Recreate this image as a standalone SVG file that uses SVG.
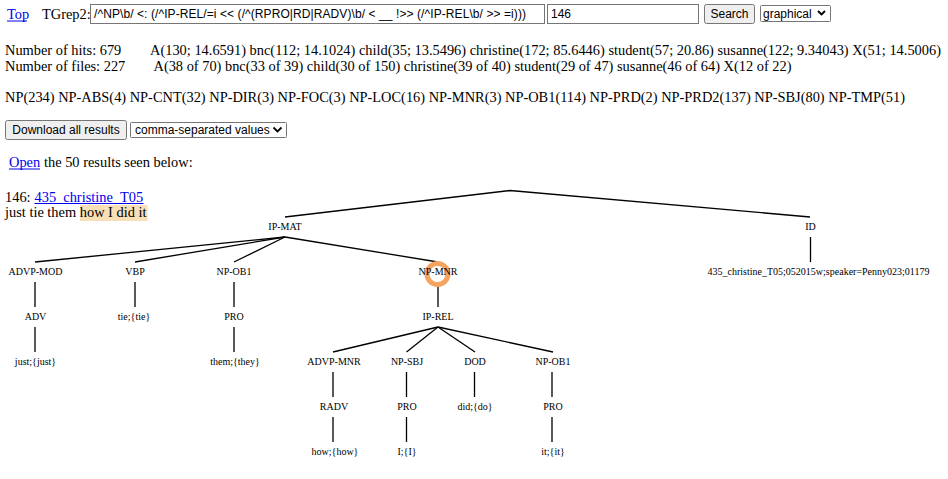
<svg xmlns="http://www.w3.org/2000/svg" width="948" height="479" viewBox="0 0 948 479">
<style>
.t{font-family:"Liberation Serif","Times New Roman",serif;font-size:14.4px;fill:#000}
.lnk{fill:#0000ee}
.ul{stroke:#0000ee;stroke-width:1}
.ui{font-family:"Liberation Sans",Arial,sans-serif;font-size:12px;fill:#000}
.box{fill:#fff;stroke:#767676;stroke-width:1}
.btn{fill:#efefef;stroke:#767676;stroke-width:1}
.chev{fill:none;stroke:#000;stroke-width:1.8}
.n{font-family:"Liberation Serif","Times New Roman",serif;font-size:10px;fill:#000;text-anchor:middle}
.e{stroke:#000;stroke-width:1.3;fill:none}
</style>
<rect width="948" height="479" fill="#fff"/>
<g id="header">
<text class="t lnk" x="7" y="19">Top</text>
<line class="ul" x1="7" y1="21" x2="27" y2="21"/>
<text class="t" x="42" y="19">TGrep2:</text>
<rect class="box" x="90.5" y="4.5" width="454" height="19"/>
<text class="ui" x="94" y="18" textLength="432">/^NP\b/ &lt;: (/^IP-REL/=i &lt;&lt; (/^(RPRO|RD|RADV)\b/ &lt; __ !&gt;&gt; (/^IP-REL\b/ &gt;&gt; =i)))</text>
<rect class="box" x="547.5" y="4.5" width="151" height="19"/>
<text class="ui" x="551" y="18">146</text>
<rect class="btn" x="704.5" y="4.5" width="50" height="19" rx="2"/>
<text class="ui" x="729.5" y="18" text-anchor="middle">Search</text>
<rect class="box" x="760.5" y="5.5" width="70" height="16" rx="1"/>
<text class="ui" x="763" y="18">graphical</text>
<polyline class="chev" points="818,11 821.5,14.5 825,11"/>
</g>
<g id="stats">
<text class="t" x="5" y="54.5">Number of hits: 679</text>
<text class="t" x="150" y="54.5" textLength="791">A(130; 14.6591) bnc(112; 14.1024) child(35; 13.5496) christine(172; 85.6446) student(57; 20.86) susanne(122; 9.34043) X(51; 14.5006)</text>
<text class="t" x="5" y="71">Number of files: 227</text>
<text class="t" x="153.5" y="71" textLength="638">A(38 of 70) bnc(33 of 39) child(30 of 150) christine(39 of 40) student(29 of 47) susanne(46 of 64) X(12 of 22)</text>
<text class="t" x="5" y="102" textLength="900">NP(234) NP-ABS(4) NP-CNT(32) NP-DIR(3) NP-FOC(3) NP-LOC(16) NP-MNR(3) NP-OB1(114) NP-PRD(2) NP-PRD2(137) NP-SBJ(80) NP-TMP(51)</text>
</g>
<g id="download">
<rect class="btn" x="5.5" y="120.5" width="121" height="19" rx="2"/>
<text class="ui" x="66" y="134" text-anchor="middle">Download all results</text>
<rect class="box" x="130.5" y="122.5" width="156" height="15" rx="1"/>
<text class="ui" x="135" y="134">comma-separated values</text>
<polyline class="chev" points="273.5,127.5 277.5,131.5 281.5,127.5"/>
</g>
<g id="open">
<text class="t lnk" x="9" y="167">Open</text>
<line class="ul" x1="9" y1="169" x2="40" y2="169"/>
<text class="t" x="44" y="167">the 50 results seen below:</text>
</g>
<g id="result">
<rect x="80" y="205" width="67.5" height="16" fill="#f9dfb5"/>
<text class="t" x="5" y="201.5">146:</text>
<text class="t lnk" x="34.5" y="201.5">435_christine_T05</text>
<line class="ul" x1="34.5" y1="203.5" x2="143.5" y2="203.5"/>
<text class="t" x="5" y="217">just tie them how I did it</text>
</g>
<g id="connectors">
<polyline class="e" points="285,217 510,190.5 810,217"/>
<line class="e" x1="285" y1="237" x2="35" y2="262"/>
<line class="e" x1="285" y1="237" x2="135" y2="262"/>
<line class="e" x1="285" y1="237" x2="234" y2="262"/>
<line class="e" x1="285" y1="237" x2="438" y2="262"/>
<line class="e" x1="810.5" y1="237" x2="810.5" y2="262"/>
<line class="e" x1="35" y1="282" x2="35" y2="307"/>
<line class="e" x1="35" y1="327" x2="35" y2="352"/>
<line class="e" x1="135" y1="282" x2="135" y2="307"/>
<line class="e" x1="234" y1="282" x2="234" y2="307"/>
<line class="e" x1="234" y1="327" x2="234" y2="352"/>
<line class="e" x1="438" y1="282" x2="438" y2="307"/>
<line class="e" x1="438" y1="327" x2="333" y2="352"/>
<line class="e" x1="438" y1="327" x2="406.5" y2="352"/>
<line class="e" x1="438" y1="327" x2="475" y2="352"/>
<line class="e" x1="438" y1="327" x2="553" y2="352"/>
<line class="e" x1="333" y1="372" x2="333" y2="397"/>
<line class="e" x1="333" y1="417" x2="333" y2="442"/>
<line class="e" x1="406.5" y1="372" x2="406.5" y2="397"/>
<line class="e" x1="406.5" y1="417" x2="406.5" y2="442"/>
<line class="e" x1="474.5" y1="372" x2="474.5" y2="397"/>
<line class="e" x1="552" y1="372" x2="552" y2="397"/>
<line class="e" x1="552" y1="417" x2="552" y2="442"/>
</g>
<g id="n-ipmat"><text class="n" x="285" y="230">IP-MAT</text></g>
<g id="n-id"><text class="n" x="810.5" y="230">ID</text></g>
<g id="n-idval"><text class="n" x="818.5" y="275">435_christine_T05;052015w;speaker=Penny023;01179</text></g>
<g id="n-advpmod"><text class="n" x="35.5" y="275">ADVP-MOD</text></g>
<g id="n-adv"><text class="n" x="35.5" y="320">ADV</text></g>
<g id="n-just"><text class="n" x="35.5" y="365">just;{just}</text></g>
<g id="n-vbp"><text class="n" x="135" y="275">VBP</text></g>
<g id="n-tie"><text class="n" x="134" y="320">tie;{tie}</text></g>
<g id="n-npob1a"><text class="n" x="234" y="275">NP-OB1</text></g>
<g id="n-pro1"><text class="n" x="234" y="320">PRO</text></g>
<g id="n-them"><text class="n" x="235" y="365">them;{they}</text></g>
<g id="n-npmnr">
<circle cx="437.5" cy="274" r="10.5" fill="none" stroke="#f4a460" stroke-width="5"/>
<text class="n" x="438" y="275">NP-MNR</text>
</g>
<g id="n-iprel"><text class="n" x="438" y="320">IP-REL</text></g>
<g id="n-advpmnr"><text class="n" x="334" y="365">ADVP-MNR</text></g>
<g id="n-radv"><text class="n" x="334" y="410">RADV</text></g>
<g id="n-how"><text class="n" x="335" y="455">how;{how}</text></g>
<g id="n-npsbj"><text class="n" x="407" y="365">NP-SBJ</text></g>
<g id="n-pro2"><text class="n" x="407" y="410">PRO</text></g>
<g id="n-i"><text class="n" x="407" y="455">I;{I}</text></g>
<g id="n-dod"><text class="n" x="475" y="365">DOD</text></g>
<g id="n-did"><text class="n" x="475" y="410">did;{do}</text></g>
<g id="n-npob1b"><text class="n" x="553" y="365">NP-OB1</text></g>
<g id="n-pro3"><text class="n" x="553" y="410">PRO</text></g>
<g id="n-it"><text class="n" x="553" y="455">it;{it}</text></g>
</svg>
